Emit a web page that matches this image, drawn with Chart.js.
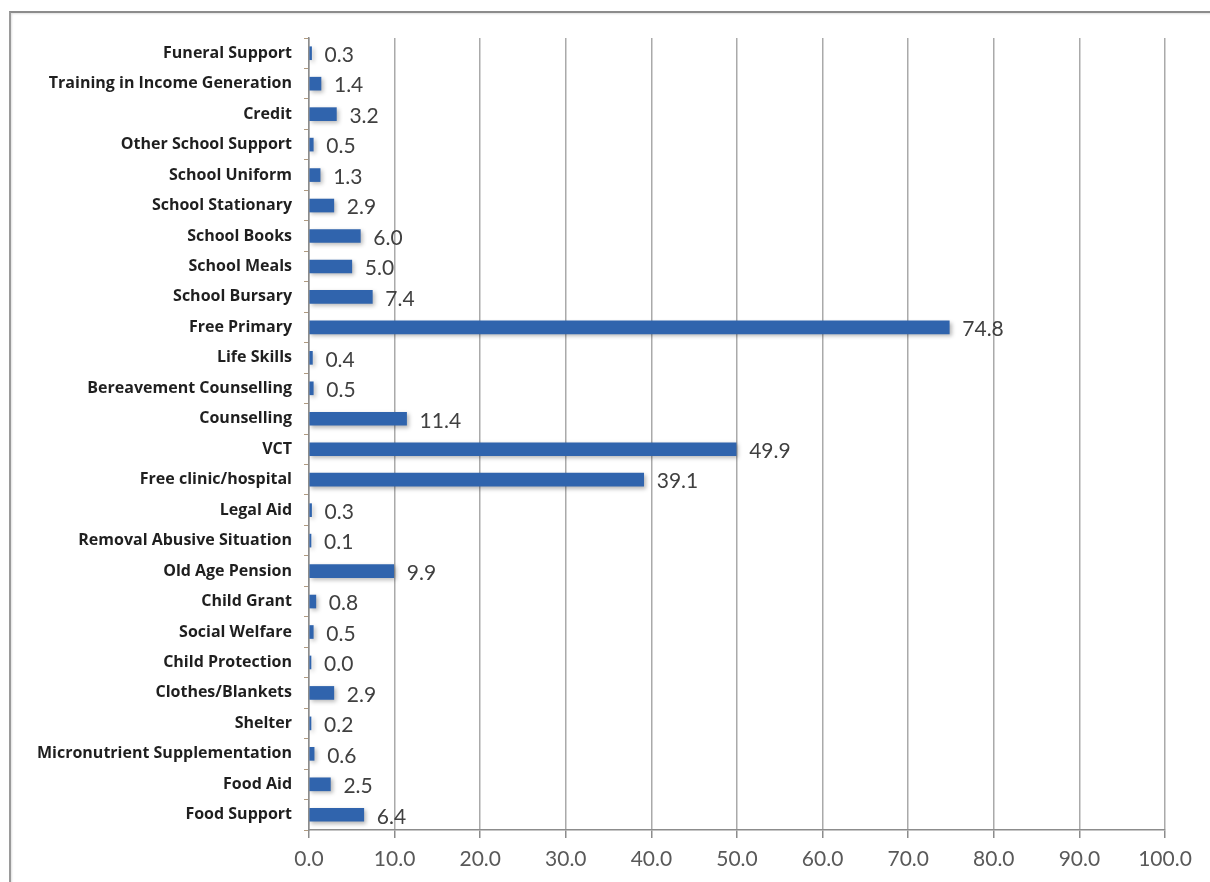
<!DOCTYPE html>
<html>
<head>
<meta charset="utf-8">
<script src="https://cdn.jsdelivr.net/npm/chart.js@4.4.1/dist/chart.umd.min.js"></script>
<style>
  html, body { margin: 0; padding: 0; background: #ffffff; overflow: hidden; }
  #wrap { position: relative; width: 1210px; height: 882px; }
  #frame {
    position: absolute; left: 9px; top: 11px; width: 1400px; height: 1000px;
    border-top: 2px solid #8c8c8c; border-left: 2px solid #9a9a9a;
    box-shadow: inset 1px 1px 2px rgba(0,0,0,0.12);
  }
  canvas { position: absolute; left: 0; top: 0; }
</style>
</head>
<body>
<div id="wrap">
  <div id="frame"></div>
  <canvas id="c" width="1210" height="882"></canvas>
</div>
<script>
// Support services received (%), listed top to bottom
const categories = [
  'Funeral Support', 'Training in Income Generation', 'Credit', 'Other School Support',
  'School Uniform', 'School Stationary', 'School Books', 'School Meals', 'School Bursary',
  'Free Primary', 'Life Skills', 'Bereavement Counselling', 'Counselling', 'VCT',
  'Free clinic/hospital', 'Legal Aid', 'Removal Abusive Situation', 'Old Age Pension',
  'Child Grant', 'Social Welfare', 'Child Protection', 'Clothes/Blankets', 'Shelter',
  'Micronutrient Supplementation', 'Food Aid', 'Food Support'
];
const percentages = [
  0.3, 1.4, 3.2, 0.5,
  1.3, 2.9, 6.0, 5.0, 7.4,
  74.8, 0.4, 0.5, 11.4, 49.9,
  39.1, 0.3, 0.1, 9.9,
  0.8, 0.5, 0.0, 2.9, 0.2,
  0.6, 2.5, 6.4
];
const xTickValues = [0, 10, 20, 30, 40, 50, 60, 70, 80, 90, 100];

const FONT = 'Lato, "Open Sans", "DejaVu Sans", sans-serif';
const LABEL_FONT = '"Open Sans", Lato, "DejaVu Sans", sans-serif';

// soft drop shadow under the bars
const barShadow = {
  id: 'barShadow',
  beforeDatasetDraw(chart) {
    const ctx = chart.ctx;
    ctx.save();
    ctx.shadowColor = 'rgba(0,0,0,0.28)';
    ctx.shadowBlur = 4;
    ctx.shadowOffsetX = 2;
    ctx.shadowOffsetY = 2;
  },
  afterDatasetDraw(chart) {
    chart.ctx.restore();
  }
};

// value labels to the right of each bar
const valueLabels = {
  id: 'valueLabels',
  afterDatasetsDraw(chart) {
    const ctx = chart.ctx;
    const meta = chart.getDatasetMeta(0);
    const data = chart.data.datasets[0].data;
    ctx.save();
    ctx.font = '21px ' + FONT;
    ctx.fillStyle = '#404040';
    ctx.textAlign = 'left';
    ctx.textBaseline = 'middle';
    meta.data.forEach((bar, i) => {
      ctx.fillText(Number(data[i]).toFixed(1), bar.x + 13, bar.y + 2);
    });
    ctx.restore();
  }
};

new Chart(document.getElementById('c'), {
  type: 'bar',
  data: {
    labels: categories,
    datasets: [{
      data: percentages,
      backgroundColor: '#3064ad',
      borderWidth: 0,
      barThickness: 13,
      minBarLength: 2
    }]
  },
  options: {
    indexAxis: 'y',
    responsive: false,
    animation: false,
    layout: { padding: { left: 0, right: 45, top: 38, bottom: 0 } },
    plugins: {
      legend: { display: false },
      tooltip: { enabled: false }
    },
    scales: {
      x: {
        type: 'linear',
        min: 0,
        max: 100,
        afterBuildTicks(scale) {
          scale.ticks = xTickValues.map(v => ({ value: v }));
        },
        afterFit(scale) { scale.height = 52; },
        grid: {
          color: '#aaaaaa',
          lineWidth: 1.5,
          drawTicks: true,
          tickLength: 8,
          tickColor: '#8c8c8c'
        },
        border: { display: true, color: '#8c8c8c', width: 1.5 },
        ticks: {
          padding: 9,
          color: '#595959',
          font: { family: FONT, size: 21 },
          callback: v => Number(v).toFixed(1)
        }
      },
      y: {
        type: 'category',
        afterFit(scale) { scale.width = 309; },
        grid: {
          offset: true,
          drawOnChartArea: false,
          drawTicks: true,
          tickLength: 5,
          tickColor: '#b09a80'
        },
        border: { display: true, color: '#8c8c8c', width: 1.5 },
        ticks: {
          padding: 12,
          color: '#1f1f1f',
          autoSkip: false,
          font: { family: LABEL_FONT, size: 16, weight: 'bold' }
        }
      }
    }
  },
  plugins: [barShadow, valueLabels]
});
</script>
</body>
</html>
